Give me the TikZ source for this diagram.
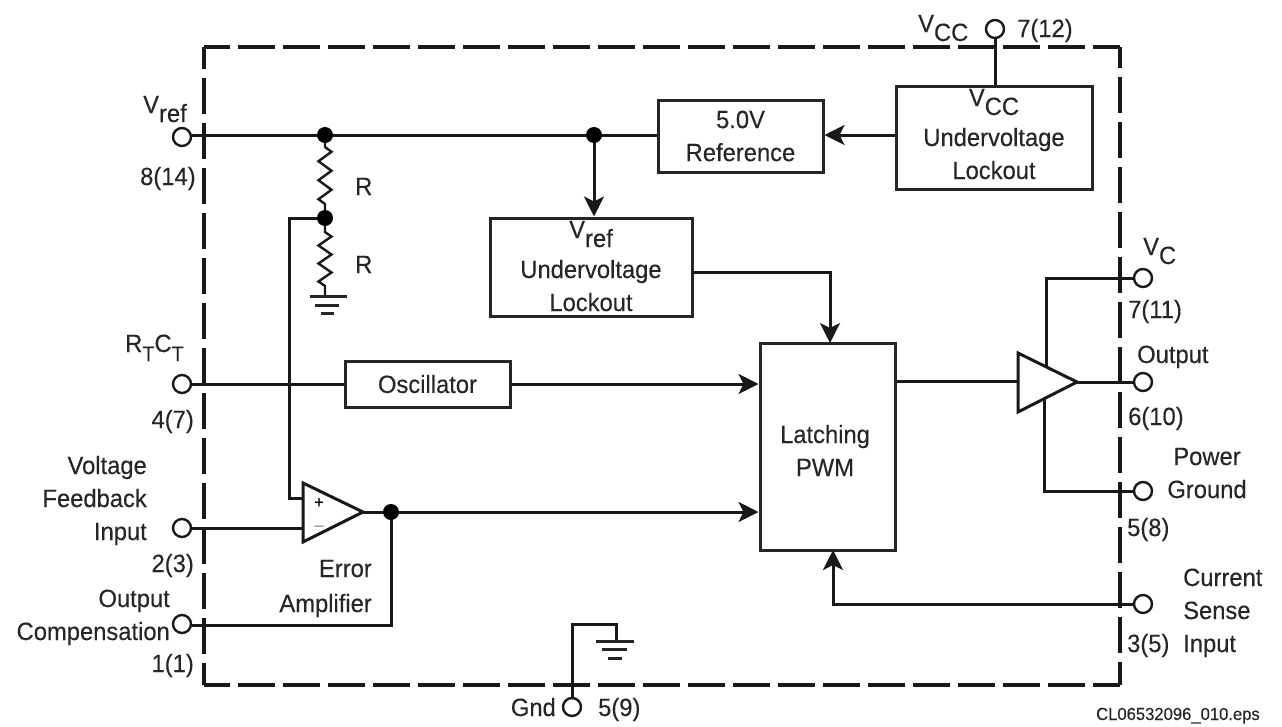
\documentclass[tikz,border=0pt]{standalone}
\usepackage{fontspec}
\setmainfont[FakeStretch=0.95,FakeBold=0.2]{Liberation Sans}
\usetikzlibrary{arrows.meta,decorations.pathmorphing}
\newcommand{\lowr}[1]{\raisebox{-9pt}[0pt][0pt]{#1}}
\begin{document}
\begin{tikzpicture}[x=1pt,y=-1pt,
  wire/.style={line width=3pt,draw=black!90},
  arr/.style={wire,-{Stealth[length=20pt,width=20pt,inset=5pt]}},
  blockbox/.style={draw=black!85,line width=3pt,fill=white,inner sep=0pt,align=center,font=\fontsize{25}{33}\selectfont,text=black!85},
  pin/.style={circle,draw=black!90,line width=2.4pt,fill=white,minimum size=18pt,inner sep=0pt},
  dot/.style={circle,fill=black,minimum size=16pt,inner sep=0pt},
  lbl/.style={inner sep=0pt,align=center,font=\fontsize{25}{33}\selectfont,text=black!85},
  res/.style={line width=2.4pt,draw=black!90,decorate,decoration={zigzag,amplitude=6.5pt,segment length=19pt,pre length=12pt,post length=9pt}},
  gbar/.style={line width=3pt,draw=black!85},
  border/.style={line width=4.2pt,draw=black!90}]
\useasboundingbox (0,0) rectangle (1282,726);
\fill[white] (0,0) rectangle (1282,726);
\coordinate (ctl) at (204,47); \coordinate (ctr) at (1120,47);
\coordinate (cbl) at (204,685); \coordinate (cbr) at (1120,685);
\draw[border,dash pattern=on 37pt off 8pt,dash phase=11pt] (ctl) -- (ctr);
\draw[border,dash pattern=on 37pt off 8pt,dash phase=11pt] (cbl) -- (cbr);
\draw[border,dash pattern=on 36pt off 9pt,dash phase=14pt] (ctl) -- (cbl);
\draw[border,dash pattern=on 36pt off 9pt,dash phase=15pt] (ctr) -- (cbr);

% pins
\node[pin] (pvref) at (182,137) {};
\node[pin] (prtct) at (182,384) {};
\node[pin] (pvfb) at (182,528) {};
\node[pin] (pcomp) at (182,624) {};
\node[pin] (pvcc) at (995,29) {};
\node[pin] (pgnd) at (572,707) {};
\node[pin] (pvc) at (1143,278) {};
\node[pin] (pout) at (1143,382) {};
\node[pin] (ppg) at (1143,491) {};
\node[pin] (pcs) at (1143,604) {};

% junctions
\coordinate (jtop) at (325,135);
\coordinate (jmid) at (325,218);
\coordinate (jref) at (594,135);
\coordinate (jamp) at (391,512);
\coordinate (gtop) at (325,296);

% boxes
\node[blockbox,minimum width=165pt,minimum height=72pt] (bref) at (740.5,136) {5.0V\\Reference};
\node[blockbox,minimum width=196pt,minimum height=103pt] (bvcc) at (994,137.5) {};
\node[blockbox,minimum width=202pt,minimum height=98pt] (buv) at (591,267) {};
\node[blockbox,minimum width=165pt,minimum height=46pt] (bosc) at (427.5,384) {Oscillator};
\node[blockbox,minimum width=135pt,minimum height=207pt] (bpwm) at (827.5,446.5) {};
\node[lbl,anchor=base] (tvccb) at (994,179) {V\lowr{CC}\\[7pt]Undervoltage\\Lockout};
\node[lbl,anchor=base] (tvrefb) at (591,311) {V\lowr{ref}\\[7pt]Undervoltage\\Lockout};
\node[lbl,anchor=base] (tpwm) at (825,476) {Latching\\PWM};

% amplifiers
\coordinate (a1) at (303,483); \coordinate (a2) at (303,542); \coordinate (a3) at (363,512);
\coordinate (b1) at (1018,353); \coordinate (b2) at (1018,412); \coordinate (b3) at (1077,382);
\coordinate (ap) at (303,498); \coordinate (am) at (303,528);
\coordinate (bc) at (1046,367); \coordinate (bg) at (1044,399);
\coordinate (bin) at (1018,381);

% wires
\draw[wire] (pvref.east |- jtop) -- (bref.west |- jtop);
\draw[arr] (jref) -- (jref |- buv.north);
\draw[arr] (bvcc.west |- jtop) -- (bref.east |- jtop);
\draw[wire] (pvcc) -- (bvcc.north -| pvcc);
\coordinate (puvr) at (692,272);
\coordinate (ppwt) at (830,343);
\draw[arr] (puvr) -| (ppwt);
\draw[wire] (prtct) -- (bosc);
\draw[arr] (bosc) -- (bpwm.west |- bosc);
\draw[wire] (jmid) -| (289,498) -- (ap);
\draw[wire] (pvfb) -- (am);
\draw[wire] (a3) -- (jamp);
\draw[arr] (jamp) -- (bpwm.west |- jamp);
\draw[wire] (jamp) |- (pcomp.east |- 0,625);
\coordinate (pwmb) at (833,550);
\draw[arr] (pcs) -| (pwmb);
\draw[wire] (bpwm.east |- bin) -- (bin);
\draw[wire] (b3) -- (pout);
\draw[wire] (pvc) -| (bc);
\draw[wire] (ppg) -| (bg);
\draw[res] (jtop) -- (jmid);
\draw[res,decoration={zigzag,amplitude=6.5pt,segment length=18pt,pre length=14pt,post length=8pt}] (jmid) -- (gtop);

\draw[wire,line join=miter] (a1) -- (a3) -- (a2) -- cycle;
\draw[wire,line join=miter] (b1) -- (b3) -- (b2) -- cycle;
\node[inner sep=0pt,font=\fontsize{17}{17}\selectfont] (tplus) at (319,503) {+};
\node[inner sep=0pt,font=\fontsize{17}{17}\selectfont,text=black!50] (tminus) at (319,528) {–};

% dots
\node[dot] (d1) at (jtop) {};
\node[dot] (d2) at (jmid) {};
\node[dot] (d3) at (jref) {};
\node[dot] (d4) at (jamp) {};

% grounds
\draw[gbar] (310,296) -- (347,296) (315,305) -- (339,305) (321,313) -- (334,313);
\coordinate (gndt) at (616,641);
\draw[wire] (pgnd) |- (616,624) -- (gndt);
\draw[gbar] (596,641) -- (634,641) (602,649.5) -- (627,649.5) (608,658) -- (622,658);

% labels
\node[lbl,anchor=base west] (tvref) at (143,113) {V\lowr{ref}};
\node[lbl,anchor=base west] (t8) at (140,185) {8(14)};
\node[lbl,anchor=base west] (tr1) at (355,195) {R};
\node[lbl,anchor=base west] (tr2) at (355,273) {R};
\node[lbl,anchor=base west] (trc) at (125,352) {R\lowr{\fontsize{21}{25}\selectfont T}C\lowr{\fontsize{21}{25}\selectfont T}};
\node[lbl,anchor=base east] (t4) at (194,428) {4(7)};
\node[lbl,align=right,anchor=base east] (tvf) at (147,540) {Voltage\\Feedback\\Input};
\node[lbl,anchor=base east] (t2) at (194,572) {2(3)};
\node[lbl,align=right,anchor=base east] (toc) at (170,640) {Output\\Compensation};
\node[lbl,anchor=base east] (t1) at (194,672) {1(1)};
\node[lbl,align=right,anchor=base east,font=\fontsize{25}{35}\selectfont] (tea) at (372,612) {Error\\Amplifier};
\node[lbl,anchor=base east] (tgnd) at (556,716) {Gnd};
\node[lbl,anchor=base west] (t59) at (598,716) {5(9)};
\node[lbl,anchor=base west] (tvcc) at (918,32) {V\lowr{CC}};
\node[lbl,anchor=base west] (t712) at (1017,37) {7(12)};
\node[lbl,anchor=base west] (tvc) at (1143,255) {V\lowr{C}};
\node[lbl,anchor=base west] (t711) at (1128,318) {7(11)};
\node[lbl,anchor=base west] (tout) at (1137,363) {Output};
\node[lbl,anchor=base west] (t610) at (1128,425) {6(10)};
\node[lbl,anchor=base] (tpg) at (1207,498) {Power\\Ground};
\node[lbl,anchor=base west] (t58) at (1127,536) {5(8)};
\node[lbl,align=left,anchor=base west] (tcs) at (1183,652) {Current\\Sense\\Input};
\node[lbl,anchor=base west] (t35) at (1127,652) {3(5)};
\node[inner sep=0pt,font=\fontsize{17.5}{18}\selectfont,text=black!85,anchor=base east] (tfile) at (1260,720) {CL06532096\_010.eps};
\end{tikzpicture}
\end{document}
